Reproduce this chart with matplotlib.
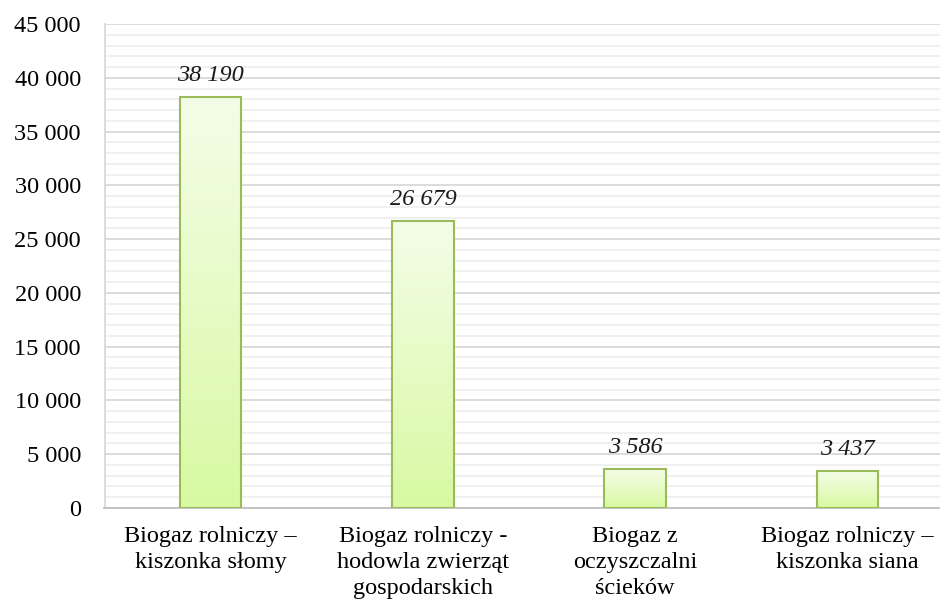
import matplotlib
matplotlib.use("Agg")
import matplotlib.pyplot as plt
import numpy as np
from matplotlib.ticker import MultipleLocator, FuncFormatter
from matplotlib.colors import LinearSegmentedColormap

categories = ["Biogaz rolniczy –\nkiszonka słomy",
              "Biogaz rolniczy -\nhodowla zwierząt\ngospodarskich",
              "Biogaz z\noczyszczalni\nścieków",
              "Biogaz rolniczy –\nkiszonka siana"]
values = [38190, 26679, 3586, 3437]
value_labels = ["38 190", "26 679", "3 586", "3 437"]

plt.rcParams['font.family'] = ['Liberation Serif', 'DejaVu Serif']

fig = plt.figure(figsize=(9.4, 6.04), dpi=100)
ax = fig.add_axes([104.5/940, 1-508/604, 849/940, (508-24)/604])

x = np.arange(len(values))
bars = ax.bar(x, values, width=0.29, facecolor='none', edgecolor='#9BBB59', linewidth=1.5, zorder=3)

cmap = LinearSegmentedColormap.from_list('g', ['#D8F9A2', '#F4FDE8'])
grad = np.linspace(0, 1, 256).reshape(-1, 1)
for b in bars:
    x0, y0 = b.get_x(), b.get_y()
    w, h = b.get_width(), b.get_height()
    im = ax.imshow(grad, cmap=cmap, aspect='auto', origin='lower',
                   extent=(x0, x0 + w, y0, y0 + h), zorder=2)
    im.set_clip_path(b)

for xi, v, lab in zip(x, values, value_labels):
    ax.annotate(lab, (xi, v), xytext=(0, 8), textcoords='offset points',
                ha='center', va='bottom', fontsize=17.5, style='italic', color='#1a1a1a')

ax.set_xlim(-0.5, len(values) - 0.5)
ax.set_ylim(0, 45000)
ax.yaxis.set_major_locator(MultipleLocator(5000))
ax.yaxis.set_minor_locator(MultipleLocator(1000))
ax.yaxis.set_major_formatter(FuncFormatter(lambda v, p: f"{int(v):,}".replace(",", " ")))
ax.grid(axis='y', which='major', color='#D9D9D9', linewidth=1.3, zorder=0)
ax.grid(axis='y', which='minor', color='#EFEFEF', linewidth=1.3, zorder=0)
ax.set_axisbelow(True)

ax.set_xticks(x)
ax.set_xticklabels(categories, fontsize=17.5, linespacing=1.3)
ax.tick_params(axis='x', length=0, pad=13)
ax.tick_params(axis='y', which='both', length=0, pad=17, labelsize=17.5)

for s in ['top', 'right']:
    ax.spines[s].set_visible(False)
ax.spines['left'].set_color('#D9D9D9')
ax.spines['left'].set_linewidth(1.3)
ax.spines['bottom'].set_color('#BFBFBF')
ax.spines['bottom'].set_linewidth(1.3)

fig.savefig("out.png", dpi=100)
